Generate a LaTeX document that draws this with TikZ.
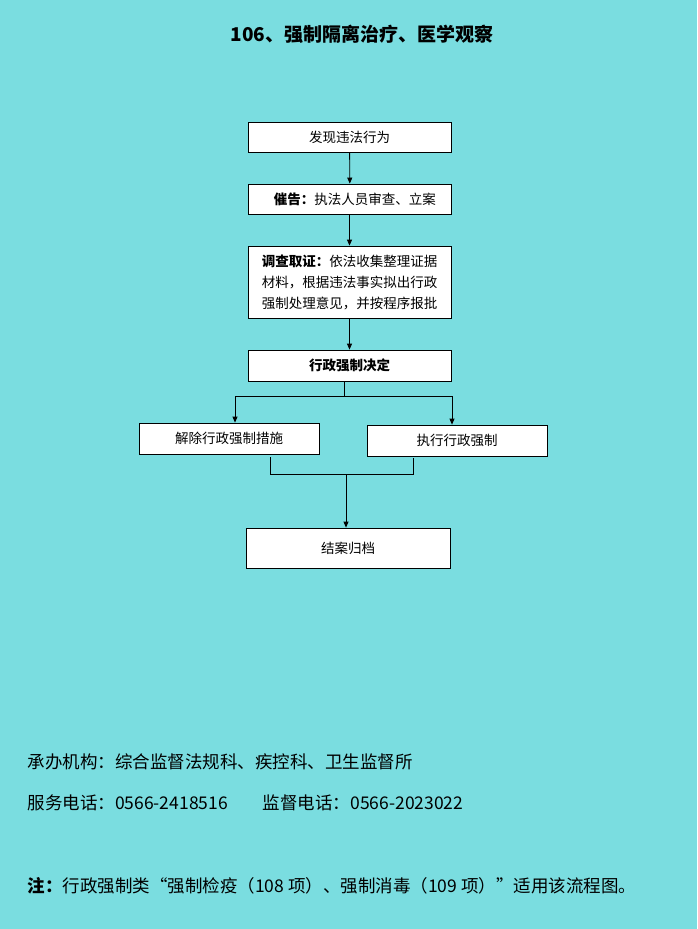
\documentclass[tikz,border=0pt]{standalone}
\usepackage{fontspec}
\setmainfont{Noto Sans CJK SC}
\usetikzlibrary{arrows.meta}
\definecolor{bg}{HTML}{7ADDE0}
\begin{document}
\begin{tikzpicture}[x=1pt,y=-1pt,
  box/.style={draw,fill=white,line width=0.8pt,inner sep=0pt,font=\fontsize{13.5}{21}\selectfont},
  ln/.style={line width=0.8pt},
  ar/.style={ln,-{Triangle[length=6pt,width=5pt]}}]
\fill[bg] (0,0) rectangle (697,929);
\useasboundingbox (0,0) rectangle (697,929);
\node[font=\fontsize{19}{22}\selectfont\bfseries] (title) at (362,34) {106、强制隔离治疗、医学观察};
\node[box,minimum width=203pt,minimum height=30pt] (a) at (349.5,137) {发现违法行为};
\node[box,minimum width=203pt,minimum height=30pt,anchor=west] (b) at (248,199) {\hspace{10pt}\textbf{催告：}执法人员审查、立案\hspace{24pt}};
\node[box,minimum width=203pt,minimum height=72pt,align=left] (c) at (349.5,282) {\textbf{调查取证：}依法收集整理证据\\材料，根据违法事实拟出行政\\强制处理意见，并按程序报批};
\node[box,minimum width=203pt,minimum height=31pt] (d) at (349.5,365.5) {\textbf{行政强制决定}};
\node[box,minimum width=180pt,minimum height=31pt] (e) at (229,438.5) {解除行政强制措施};
\node[box,minimum width=180pt,minimum height=31pt] (f) at (457,440.5) {执行行政强制};
\node[box,minimum width=204pt,minimum height=40pt] (g) at (348,548) {结案归档};
\draw[ar] (a) -- (b);
\draw[ar] (b.south -| a) -- (c);
\draw[ar] (c) -- (d);
\coordinate (s) at (344,396);
\draw[ln] (d.south -| s) -- (s);
\draw[ln] (235,396) -- (452,396);
\draw[ar] (235,396) -- (e.north -| 235,0);
\draw[ar] (452,396) -- (f.north -| 452,0);
\coordinate (j) at (346,474);
\draw[ln] (270,457) -- (270,474) -- (413,474) -- (413,458);
\draw[ar] (j) -- (g.north -| j);
\begin{scope}[font=\fontsize{17.5}{20}\selectfont]
\node[anchor=west] (t1) at (24,762) {承办机构：综合监督法规科、疾控科、卫生监督所};
\node[anchor=west] (t2) at (24,803) {服务电话：0566-2418516\quad\quad 监督电话：0566-2023022};
\node[anchor=west] (t3) at (24,886) {\textbf{注：}行政强制类“强制检疫（108 项）、强制消毒（109 项）”适用该流程图。};
\end{scope}
\end{tikzpicture}
\end{document}
